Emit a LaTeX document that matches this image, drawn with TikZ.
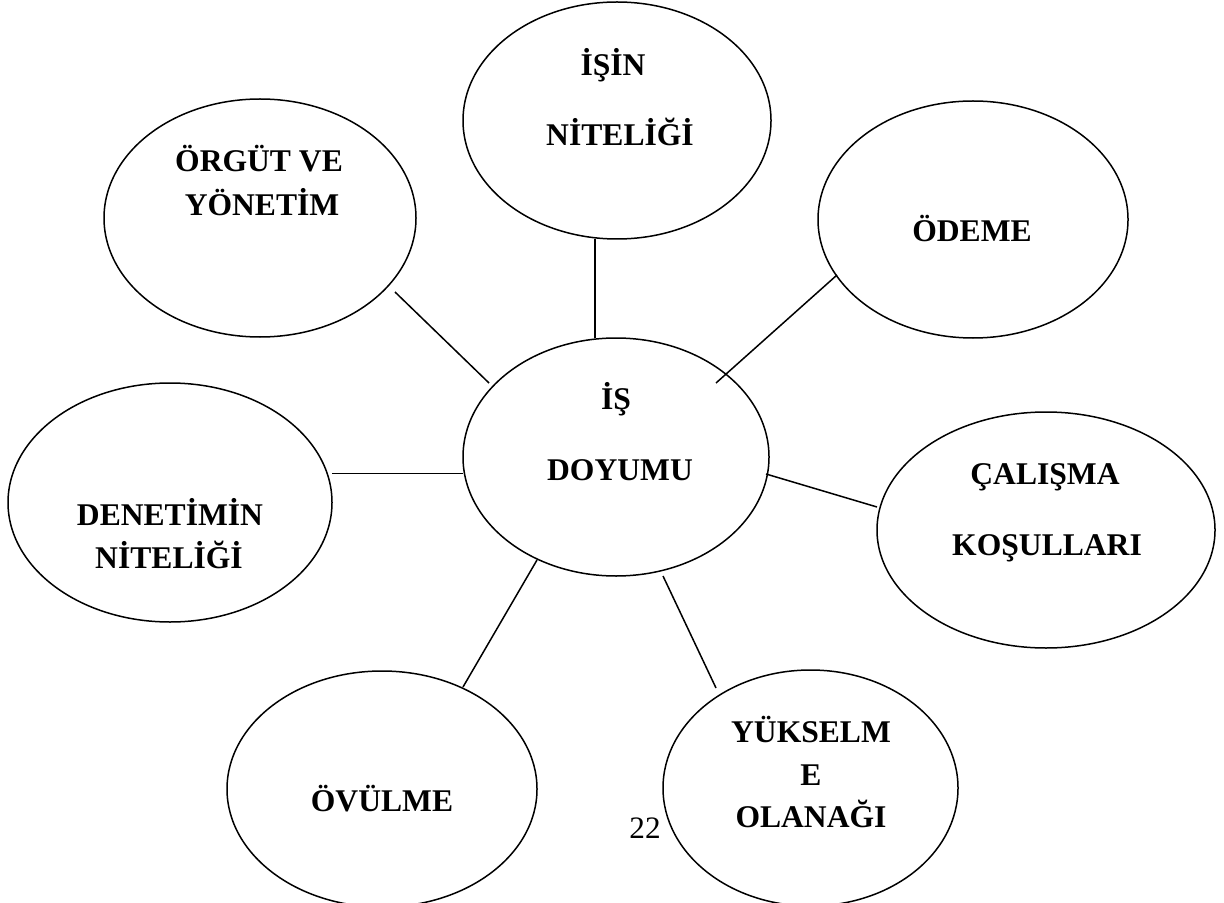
\documentclass[tikz,border=0pt]{standalone}
\usepackage{fontspec}
\setmainfont{Liberation Serif}
\usetikzlibrary{shapes.geometric}
\begin{document}
\begin{tikzpicture}[x=0.5pt,y=-0.5pt,
  oval/.style={draw=black, line width=0.75pt, ellipse, inner sep=0pt, outer sep=0pt},
  lbl/.style={anchor=base, inner sep=0pt, font=\fontsize{15.8pt}{18pt}\selectfont\bfseries},
  num/.style={anchor=base, inner sep=0pt, font=\fontsize{15.6pt}{18pt}\selectfont},
  conn/.style={draw=black, line width=0.75pt}]
\useasboundingbox (0,0) rectangle (1224,903);
% ellipses
\node[oval, minimum width=154pt, minimum height=118.5pt] (isin) at (617,120.5) {};
\node[oval, minimum width=156pt, minimum height=119pt] (orgut) at (260,218) {};
\node[oval, minimum width=155pt, minimum height=118.5pt] (odeme) at (973,219.5) {};
\node[oval, minimum width=153pt, minimum height=119pt] (doyum) at (616,457) {};
\node[oval, minimum width=162pt, minimum height=119.5pt] (denetim) at (170,502.5) {};
\node[oval, minimum width=169pt, minimum height=118pt] (calisma) at (1046,530) {};
\node[oval, minimum width=155pt, minimum height=118pt] (ovulme) at (382,789) {};
\node[oval, minimum width=147.5pt, minimum height=118pt] (yukselme) at (810.5,788) {};
% texts
\node[lbl] (t1a) at (613,76) {İŞİN};
\node[lbl] (t1b) at (620,146) {NİTELİĞİ};
\node[lbl] (t2a) at (259,172) {ÖRGÜT VE};
\node[lbl] (t2b) at (262,216) {YÖNETİM};
\node[lbl] (t3) at (972,242) {ÖDEME};
\node[lbl] (t4a) at (616,409) {İŞ};
\node[lbl] (t4b) at (620,480) {DOYUMU};
\node[lbl] (t5a) at (170,525) {DENETİMİN};
\node[lbl] (t5b) at (169,568) {NİTELİĞİ};
\node[lbl] (t6a) at (1045,484) {ÇALIŞMA};
\node[lbl] (t6b) at (1047,555) {KOŞULLARI};
\node[lbl] (t7) at (382,811) {ÖVÜLME};
\node[lbl] (t8a) at (811,742) {YÜKSELM};
\node[lbl] (t8b) at (811,785) {E};
\node[lbl] (t8c) at (811,827) {OLANAĞI};
\node[num] (pg) at (645,838) {22};
% connector end points
\coordinate (c1a) at (595,239);   \coordinate (c1b) at (595,338);
\coordinate (c2a) at (395,292);   \coordinate (c2b) at (489,383);
\coordinate (c3a) at (837,275);   \coordinate (c3b) at (716,383);
\coordinate (c4a) at (332,473.5); \coordinate (c4b) at (463,473.5);
\coordinate (c5a) at (766,474);   \coordinate (c5b) at (877,507);
\coordinate (c6a) at (537,560);   \coordinate (c6b) at (463,687);
\coordinate (c7a) at (663,576);   \coordinate (c7b) at (716,688);
\draw[conn] (c1a) -- (c1b);
\draw[conn] (c2a) -- (c2b);
\draw[conn] (c3a) -- (c3b);
\draw[conn] (c4a) -- (c4b);
\draw[conn] (c5a) -- (c5b);
\draw[conn] (c6a) -- (c6b);
\draw[conn] (c7a) -- (c7b);
\end{tikzpicture}
\end{document}
